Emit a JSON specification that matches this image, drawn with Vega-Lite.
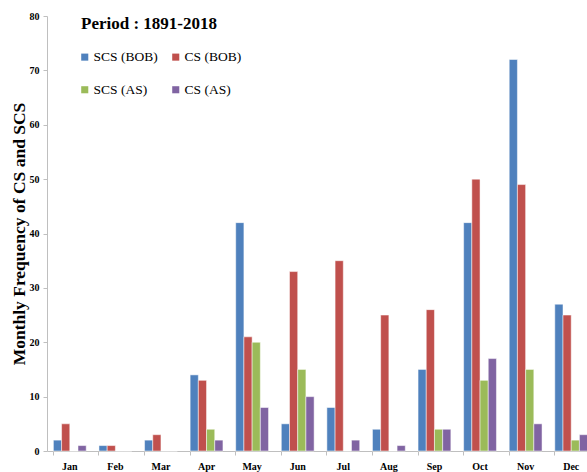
{
  "$schema": "https://vega.github.io/schema/vega-lite/v6.json",
  "autosize": "none",
  "width": 540,
  "height": 435,
  "padding": {"left": 47, "top": 16, "right": 0, "bottom": 21},
  "background": "white",
  "config": {"view": {"stroke": null}, "font": "Liberation Serif"},
  "data": {"values": [
    {"month":"Jan","series":"SCS (BOB)","value":2},{"month":"Jan","series":"CS (BOB)","value":5},{"month":"Jan","series":"SCS (AS)","value":0},{"month":"Jan","series":"CS (AS)","value":1},
    {"month":"Feb","series":"SCS (BOB)","value":1},{"month":"Feb","series":"CS (BOB)","value":1},{"month":"Feb","series":"SCS (AS)","value":0},{"month":"Feb","series":"CS (AS)","value":0},
    {"month":"Mar","series":"SCS (BOB)","value":2},{"month":"Mar","series":"CS (BOB)","value":3},{"month":"Mar","series":"SCS (AS)","value":0},{"month":"Mar","series":"CS (AS)","value":0},
    {"month":"Apr","series":"SCS (BOB)","value":14},{"month":"Apr","series":"CS (BOB)","value":13},{"month":"Apr","series":"SCS (AS)","value":4},{"month":"Apr","series":"CS (AS)","value":2},
    {"month":"May","series":"SCS (BOB)","value":42},{"month":"May","series":"CS (BOB)","value":21},{"month":"May","series":"SCS (AS)","value":20},{"month":"May","series":"CS (AS)","value":8},
    {"month":"Jun","series":"SCS (BOB)","value":5},{"month":"Jun","series":"CS (BOB)","value":33},{"month":"Jun","series":"SCS (AS)","value":15},{"month":"Jun","series":"CS (AS)","value":10},
    {"month":"Jul","series":"SCS (BOB)","value":8},{"month":"Jul","series":"CS (BOB)","value":35},{"month":"Jul","series":"SCS (AS)","value":0},{"month":"Jul","series":"CS (AS)","value":2},
    {"month":"Aug","series":"SCS (BOB)","value":4},{"month":"Aug","series":"CS (BOB)","value":25},{"month":"Aug","series":"SCS (AS)","value":0},{"month":"Aug","series":"CS (AS)","value":1},
    {"month":"Sep","series":"SCS (BOB)","value":15},{"month":"Sep","series":"CS (BOB)","value":26},{"month":"Sep","series":"SCS (AS)","value":4},{"month":"Sep","series":"CS (AS)","value":4},
    {"month":"Oct","series":"SCS (BOB)","value":42},{"month":"Oct","series":"CS (BOB)","value":50},{"month":"Oct","series":"SCS (AS)","value":13},{"month":"Oct","series":"CS (AS)","value":17},
    {"month":"Nov","series":"SCS (BOB)","value":72},{"month":"Nov","series":"CS (BOB)","value":49},{"month":"Nov","series":"SCS (AS)","value":15},{"month":"Nov","series":"CS (AS)","value":5},
    {"month":"Dec","series":"SCS (BOB)","value":27},{"month":"Dec","series":"CS (BOB)","value":25},{"month":"Dec","series":"SCS (AS)","value":2},{"month":"Dec","series":"CS (AS)","value":3}
  ]},
  "mark": {"type": "bar", "stroke": "white", "strokeWidth": 0.5},
  "encoding": {
    "x": {
      "field": "month", "type": "nominal", "sort": null,
      "scale": {"range": [0, 547], "paddingInner": 0.28, "paddingOuter": 0.14},
      "axis": {
        "title": null, "labelAngle": 0, "labelFont": "Liberation Serif", "labelFontWeight": "bold",
        "labelFontSize": 10, "labelColor": "black", "labelPadding": 6,
        "domainColor": "#bfbfbf", "tickColor": "#bfbfbf", "tickSize": 4, "bandPosition": 0
      }
    },
    "xOffset": {"field": "series", "type": "nominal", "sort": ["SCS (BOB)", "CS (BOB)", "SCS (AS)", "CS (AS)"], "scale": {"paddingInner": 0, "paddingOuter": 0}},
    "y": {
      "field": "value", "type": "quantitative",
      "scale": {"domain": [0, 80], "nice": false},
      "axis": {
        "title": "Monthly Frequency of CS and SCS", "titleFont": "Liberation Serif", "titleFontWeight": "bold",
        "titleFontSize": 17.5, "titleColor": "black", "titlePadding": 1,
        "values": [0,10,20,30,40,50,60,70,80],
        "labelFont": "Liberation Serif", "labelFontWeight": "bold", "labelFontSize": 10, "labelColor": "black",
        "grid": false, "domainColor": "#bfbfbf", "tickColor": "#bfbfbf", "tickSize": 4, "labelPadding": 4
      }
    },
    "color": {
      "field": "series", "type": "nominal",
      "sort": ["SCS (BOB)", "CS (BOB)", "SCS (AS)", "CS (AS)"],
      "scale": {"domain": ["SCS (BOB)", "CS (BOB)", "SCS (AS)", "CS (AS)"], "range": ["#4F81BD", "#C0504D", "#9BBB59", "#8064A2"]},
      "legend": {
        "title": "Period : 1891-2018", "orient": "none", "legendX": 34, "legendY": 0, "direction": "horizontal",
        "columns": 2, "columnPadding": 14, "rowPadding": 18,
        "titleFont": "Liberation Serif", "titleFontSize": 17, "titleFontWeight": "bold", "titleColor": "black", "titlePadding": 17,
        "labelFont": "Liberation Serif", "labelFontSize": 13.5, "labelColor": "black", "labelOffset": 2,
        "symbolType": "square", "symbolSize": 50, "symbolStrokeWidth": 0, "symbolOffset": -3
      }
    }
  }
}
